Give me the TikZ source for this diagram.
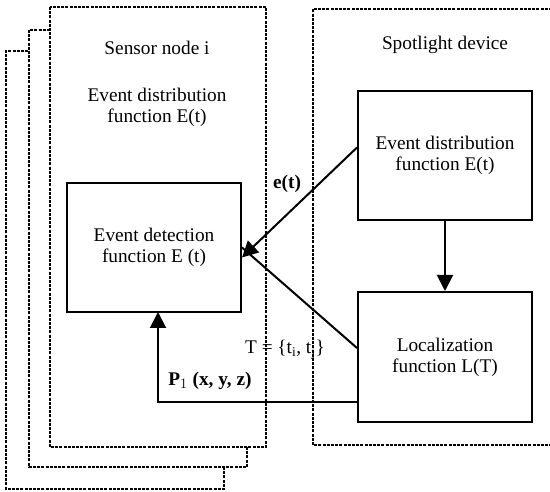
\documentclass[tikz,border=0pt]{standalone}
\usepackage{fontspec}
\setmainfont{Liberation Serif}
\usetikzlibrary{arrows.meta}
\begin{document}
\begin{tikzpicture}[x=1pt,y=-1pt,
  txt/.style={font=\fontsize{19.3}{21}\selectfont,align=center,inner sep=0pt},
  lbl/.style={font=\fontsize{19.3}{21}\selectfont\bfseries,inner sep=0pt},
  fbox/.style={draw,line width=2pt,minimum width=174pt,minimum height=129pt,txt},
  cont/.style={line width=2pt,dash pattern=on 3pt off 1.2pt},
  conn/.style={line width=2pt},
  arr/.style={conn,-{Triangle[length=16pt,width=16pt]}}]
\useasboundingbox (0,0) rectangle (550,492);
% sensor node stack
\draw[cont] (224,467) -- (224,489) -- (6,489) -- (6,51) -- (29,51);
\draw[cont] (247,447) -- (247,467) -- (29,467) -- (29,30) -- (50,30);
\draw[cont] (50,7) rectangle (266,447);
% spotlight device container
\draw[cont] (552,9) -- (313,9) -- (313,445) -- (552,445);
% texts in containers
\node[txt] (sn) at (157,48) {Sensor node i};
\node[txt] (sedf) at (157,107) {Event distribution\\function E(t)};
\node[txt] (sd) at (445,45) {Spotlight device};
% function boxes
\node[fbox] (det) at (154,247.5) {Event detection\\function E (t)};
\node[fbox] (dist) at (445,155.5) {Event distribution\\function E(t)};
\node[fbox,minimum height=130pt] (loc) at (445,357) {Localization\\function L(T)};
% connectors
\coordinate (detE1) at ([yshift=-10pt]det.east);
\draw[arr] ([yshift=8pt]dist.west) -- (detE1);
\draw[arr] (dist.south) -- (loc.north);
\draw[conn] (det.east) -- ([yshift=9pt]loc.west);
\coordinate (bend) at (158,402);
\draw[arr] (loc.west |- bend) -- (bend) -- (158,312);
% labels
\node[lbl] (le) at (287,184) {e(t)};
\node[txt] (lt) at (285,350) {T = \{t$_\mathrm{i}$, t$_\mathrm{j}$\}};
\node[lbl] (lp) at (210,381) {P$_1$ (x, y, z)};
\end{tikzpicture}
\end{document}
